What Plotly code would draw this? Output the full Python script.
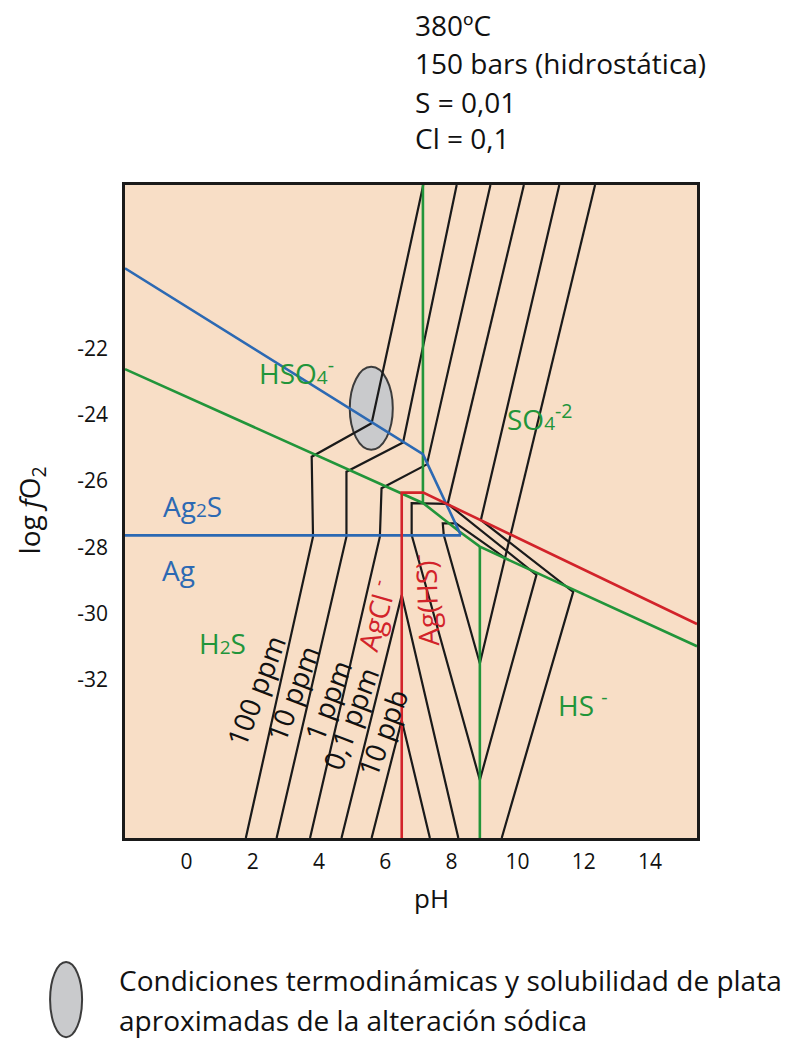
import plotly.graph_objects as go

FONT = "Open Sans"

# ---- axes ----
x_ticks = [0, 2, 4, 6, 8, 10, 12, 14]
x_tick_labels = ["0", "2", "4", "6", "8", "10", "12", "14"]
y_ticks = [-22, -24, -26, -28, -30, -32]
y_tick_labels = ["-22", "-24", "-26", "-28", "-30", "-32"]
x_range = [-1.86, 15.42]
y_range = [-36.76, -17.08]

# ---- stability boundaries (pH, log fO2) ----
blue_upper_ph = [-1.86, 7.14, 8.29]
blue_upper_fo2 = [-19.59, -25.19, -27.64]
blue_lower_ph = [-1.86, 8.29]
blue_lower_fo2 = [-27.64, -27.64]

green_diag_ph = [-1.86, 7.15, 8.25, 8.86, 15.42]
green_diag_fo2 = [-22.63, -26.67, -27.53, -27.98, -30.98]
green_v1_ph = [7.14, 7.14]
green_v1_fo2 = [-17.08, -26.67]
green_v2_ph = [8.86, 8.86]
green_v2_fo2 = [-27.98, -36.76]

red_ph = [6.50, 6.50, 7.15, 15.42]
red_fo2 = [-36.76, -26.35, -26.35, -30.31]

# ---- silver solubility contours ----
c100ppm_ph = [1.79, 3.82, 3.78, 5.59, 7.15]
c100ppm_fo2 = [-36.76, -27.68, -25.27, -24.26, -17.08]
c10ppm_ph = [2.72, 4.83, 4.83, 6.54, 8.16]
c10ppm_fo2 = [-36.76, -27.68, -25.72, -24.84, -17.08]
c1ppm_ph = [3.73, 5.84, 5.89, 7.26, 9.18]
c1ppm_fo2 = [-36.76, -27.68, -26.22, -25.50, -17.08]
c01ppm_ph = [4.68, 6.50, 8.21]
c01ppm_fo2 = [-36.76, -29.44, -36.76]
c10ppb_ph = [5.59, 6.50, 7.35]
c10ppb_fo2 = [-36.76, -33.21, -36.76]
cD_ph = [10.19, 7.89]
cD_fo2 = [-17.08, -26.69]
loop1_ph = [6.80, 6.80, 7.89, 10.57, 8.86, 6.80]
loop1_fo2 = [-27.63, -26.67, -26.69, -28.83, -35.01, -27.63]
loop2_ph = [7.77, 7.74, 8.14, 9.62, 8.86, 7.77]
loop2_fo2 = [-27.63, -27.28, -27.28, -28.32, -31.50, -27.63]
cE_ph = [11.26, 8.89, 11.68, 9.52]
cE_fo2 = [-17.08, -27.18, -29.34, -36.76]
cF_ph = [12.34, 9.77, 9.62]
cF_fo2 = [-17.08, -27.63, -28.32]

# ---- ellipse (approximate conditions) ----
ell_ph_center = 5.58
ell_fo2_center = -23.81
ell_ph_radius = 0.65
ell_fo2_radius = 1.25

BLACK = "#1a1a1a"
BLUE = "#2C69B3"
GREEN = "#22953A"
RED = "#D2232A"

fig = go.Figure()

black_lines = [
    (c100ppm_ph, c100ppm_fo2), (c10ppm_ph, c10ppm_fo2), (c1ppm_ph, c1ppm_fo2),
    (c01ppm_ph, c01ppm_fo2), (c10ppb_ph, c10ppb_fo2), (cD_ph, cD_fo2),
    (loop1_ph, loop1_fo2), (loop2_ph, loop2_fo2), (cE_ph, cE_fo2), (cF_ph, cF_fo2),
]
for xs, ys in black_lines:
    fig.add_trace(go.Scatter(x=xs, y=ys, mode="lines",
                             line=dict(color=BLACK, width=2.2), hoverinfo="skip"))

for xs, ys, col in [
    (green_diag_ph, green_diag_fo2, GREEN), (green_v1_ph, green_v1_fo2, GREEN),
    (green_v2_ph, green_v2_fo2, GREEN),
    (blue_upper_ph, blue_upper_fo2, BLUE), (blue_lower_ph, blue_lower_fo2, BLUE),
    (red_ph, red_fo2, RED),
]:
    fig.add_trace(go.Scatter(x=xs, y=ys, mode="lines",
                             line=dict(color=col, width=2.6), hoverinfo="skip"))

# ellipse in the plot
fig.add_shape(type="circle", xref="x", yref="y", layer="below",
              x0=ell_ph_center - ell_ph_radius, x1=ell_ph_center + ell_ph_radius,
              y0=ell_fo2_center - ell_fo2_radius, y1=ell_fo2_center + ell_fo2_radius,
              fillcolor="#C9CACC", line=dict(color="#3C3C3C", width=2))

# legend ellipse (paper coords)
fig.add_shape(type="circle", xref="paper", yref="paper",
              x0=-0.131, x1=-0.075, y0=-0.305, y1=-0.190,
              fillcolor="#C9CACC", line=dict(color="#3C3C3C", width=2))

ann = []
def lab(x, y, text, color, size=28, angle=0, ref="x", xa="center"):
    ann.append(dict(x=x, y=y, xref=ref if ref == "x" else "paper",
                    yref="y" if ref == "x" else "paper",
                    text=text, showarrow=False, textangle=angle,
                    xanchor=xa, yanchor="middle",
                    font=dict(family=FONT, size=size, color=color)))

small = "<span style='font-size:19px'>{}</span>"
lab(3.31, -22.71, "HSO" + small.format("4") + "<sup>-</sup>", GREEN)
lab(10.67, -24.10, "SO" + small.format("4") + "<sup>-2</sup>", GREEN)
lab(0.19, -26.75, "Ag" + small.format("2") + "S", BLUE)
lab(-0.23, -28.68, "Ag", BLUE)
lab(1.10, -30.88, "H" + small.format("2") + "S", GREEN)
lab(11.97, -32.72, "HS <sup>-</sup>", GREEN)
lab(5.69, -30.04, "AgCl <sup>-</sup>", RED, angle=-74)
lab(7.20, -29.59, "Ag(HS)<sup>-</sup>", RED, angle=-92)
lab(2.10, -32.31, "100 ppm", "#111", angle=-69)
lab(3.21, -32.40, "10 ppm", "#111", angle=-69)
lab(4.27, -32.61, "1 ppm", "#111", angle=-69)
lab(4.96, -33.15, "0,1 ppm", "#111", angle=-69)
lab(5.93, -33.57, "10 ppb", "#111", angle=-69)

# header text
for yy, t in [(1.245, "380ºC"), (1.187, "150 bars (hidrostática)"),
              (1.127, "S = 0,01"), (1.072, "Cl = 0,1")]:
    lab(0.5035, yy, t, "#111", ref="paper", xa="left")

# axis titles
lab(0.5367, -0.092, "pH", "#111", size=26, ref="paper")
lab(-0.164, 0.502, "log <i>f</i>O<sub>2</sub>", "#111", size=28, angle=-90, ref="paper")

# legend text
lab(-0.014, -0.2175, "Condiciones termodinámicas y solubilidad de plata", "#111", ref="paper", xa="left")
lab(-0.014, -0.2787, "aproximadas de la alteración sódica", "#111", ref="paper", xa="left")

fig.update_layout(
    width=796, height=1042, autosize=False,
    margin=dict(l=125, r=99, t=185, b=204),
    paper_bgcolor="white", plot_bgcolor="#F8DEC6",
    showlegend=False, annotations=ann,
    font=dict(family=FONT, color="#111"),
)
fig.update_xaxes(range=x_range, tickvals=x_ticks, ticktext=x_tick_labels, ticks="",
                 showgrid=False, zeroline=False, showline=True, mirror=True,
                 linecolor="#1a1a1a", linewidth=2.5,
                 tickfont=dict(size=21, family=FONT, color="#111"),
                 ticklabelstandoff=3)
fig.update_yaxes(range=y_range, tickvals=y_ticks, ticktext=y_tick_labels, ticks="",
                 showgrid=False, zeroline=False, showline=True, mirror=True,
                 linecolor="#1a1a1a", linewidth=2.5,
                 tickfont=dict(size=21, family=FONT, color="#111"),
                 ticklabelstandoff=10)

fig.write_html("out.html", config={"displayModeBar": False},
               post_script="document.body.style.margin='0px';document.body.style.overflow='hidden';")
